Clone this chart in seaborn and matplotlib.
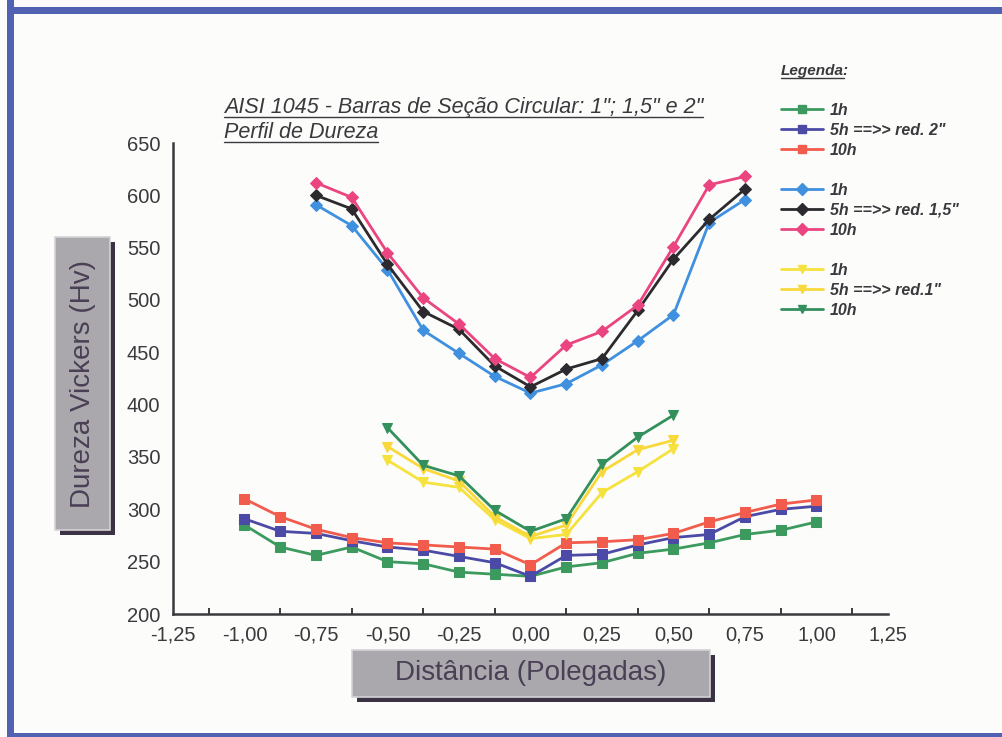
import numpy as np
import pandas as pd
import matplotlib
matplotlib.use('Agg')
import matplotlib.pyplot as plt
import seaborn as sns
from matplotlib.patches import Rectangle
from matplotlib.lines import Line2D
from matplotlib.ticker import MultipleLocator, FuncFormatter

# Distâncias (polegadas) para cada diâmetro de barra
x_2 = [-1.0, -0.875, -0.75, -0.625, -0.5, -0.375, -0.25, -0.125, 0.0,
       0.125, 0.25, 0.375, 0.5, 0.625, 0.75, 0.875, 1.0]
x_15 = [-0.75, -0.625, -0.5, -0.375, -0.25, -0.125, 0.0,
        0.125, 0.25, 0.375, 0.5, 0.625, 0.75]
x_1 = [-0.5, -0.375, -0.25, -0.125, 0.0, 0.125, 0.25, 0.375, 0.5]

# Dureza Vickers (Hv)
hv_2_1h = [285, 264, 256, 264, 250, 248, 240, 238, 236, 245, 249, 258, 262, 268, 276, 280, 288]
hv_2_5h = [291, 279, 277, 270, 264, 261, 255, 249, 236, 256, 257, 266, 273, 276, 293, 300, 303]
hv_2_10h = [310, 293, 281, 273, 268, 266, 264, 262, 247, 268, 269, 271, 277, 288, 297, 305, 309]

hv_15_1h = [591, 571, 529, 471, 449, 427, 411, 420, 438, 461, 486, 574, 596]
hv_15_5h = [600, 587, 534, 489, 472, 437, 417, 434, 444, 490, 539, 577, 606]
hv_15_10h = [612, 598, 545, 502, 477, 444, 426, 457, 470, 495, 551, 610, 618]

hv_1_1h = [347, 326, 321, 290, 272, 276, 316, 336, 358]
hv_1_5h = [360, 339, 327, 293, 274, 285, 336, 357, 366]
hv_1_10h = [378, 342, 332, 299, 279, 291, 343, 369, 390]

legend_labels = ['1h', '5h ==>> red. 2"', '10h',
                 '1h', '5h ==>> red. 1,5"', '10h',
                 '1h', '5h ==>> red.1"', '10h']

TXT = '#3a3a3e'
W, H = 1003, 737


def build_data():
    """Monta a tabela longa com todas as séries"""
    series = [
        ('2_1h', x_2, hv_2_1h), ('2_5h', x_2, hv_2_5h), ('2_10h', x_2, hv_2_10h),
        ('15_1h', x_15, hv_15_1h), ('15_5h', x_15, hv_15_5h), ('15_10h', x_15, hv_15_10h),
        ('1_1h', x_1, hv_1_1h), ('1_5h', x_1, hv_1_5h), ('1_10h', x_1, hv_1_10h),
    ]
    frames = [pd.DataFrame({'serie': name, 'x': xs, 'hv': ys}) for name, xs, ys in series]
    return pd.concat(frames, ignore_index=True)


def underline(fig, txt, y_px, lw=1.0):
    """Sublinha um texto na altura y_px (pixels a partir do topo)"""
    fig.canvas.draw()
    bb = txt.get_window_extent()
    y = 1 - y_px / H
    fig.add_artist(Line2D([bb.x0 / W, bb.x1 / W], [y, y], color=TXT, lw=lw,
                          transform=fig.transFigure))


def label_box(fig, x0, y0, w, h, text, rotation=0):
    """Caixa cinza com sombra para os títulos dos eixos (pixels)"""
    sh = 5
    fig.patches.append(Rectangle(((x0 + sh) / W, (H - y0 - h - sh) / H), w / W, h / H,
                                 transform=fig.transFigure, facecolor='#3b3244',
                                 edgecolor='none', zorder=1))
    fig.patches.append(Rectangle((x0 / W, (H - y0 - h) / H), w / W, h / H,
                                 transform=fig.transFigure, facecolor='#aaa8ad',
                                 edgecolor='#d4d2d6', lw=1.2, zorder=2))
    fig.text((x0 + w / 2) / W, (H - y0 - h / 2) / H, text, rotation=rotation,
             ha='center', va='center', fontsize=20, color='#4a3f55', zorder=3)


def main():
    sns.set_style('white')
    plt.rcParams['font.family'] = ['Liberation Sans', 'DejaVu Sans']

    df = build_data()

    fig = plt.figure(figsize=(10.03, 7.37), dpi=100)
    fig.patch.set_facecolor('#fcfcfa')
    ax = fig.add_axes([173 / W, 123 / H, 715 / W, 471 / H])
    ax.set_facecolor('none')

    styles = {
        '2_1h': ('#3c9a5f', 's'), '2_5h': ('#4b4aa6', 's'), '2_10h': ('#f25c4c', 's'),
        '15_1h': ('#3f90de', 'D'), '15_5h': ('#2c2a2e', 'D'), '15_10h': ('#ea4580', 'D'),
        '1_1h': ('#f6e23c', 'v'), '1_5h': ('#f8d83a', 'v'), '1_10h': ('#33905c', 'v'),
    }
    handles = []
    for name, (color, marker) in styles.items():
        sub = df[df['serie'] == name]
        sns.lineplot(data=sub, x='x', y='hv', ax=ax, color=color, marker=marker,
                     markersize=7 if marker != 'D' else 6, markeredgecolor=color,
                     linewidth=2.0, estimator=None, sort=False)
        handles.append(Line2D([], [], color=color, marker=marker, markersize=6,
                              markeredgecolor=color, lw=2.0))

    # Eixos
    ax.set_xlim(-1.25, 1.25)
    ax.set_ylim(200, 650)
    ax.set_xlabel('')
    ax.set_ylabel('')
    for s in ['top', 'right']:
        ax.spines[s].set_visible(False)
    for s in ['left', 'bottom']:
        ax.spines[s].set_color(TXT)
        ax.spines[s].set_linewidth(1.8)
    ax.xaxis.set_major_locator(MultipleLocator(0.25))
    ax.xaxis.set_minor_locator(MultipleLocator(0.125))
    ax.yaxis.set_major_locator(MultipleLocator(50))
    ax.xaxis.set_major_formatter(FuncFormatter(
        lambda v, p: f'{v:.2f}'.replace('.', ',').replace('-0,00', '0,00')))
    ax.tick_params(axis='both', which='major', direction='in', length=7, width=1.6,
                   color=TXT, labelsize=14.5, labelcolor=TXT)
    ax.tick_params(axis='x', which='minor', direction='in', length=4, width=1.4,
                   color=TXT, bottom=True)
    ax.tick_params(axis='y', pad=9)
    ax.tick_params(axis='x', pad=8)

    # Legenda com linhas em branco entre os grupos
    blank = Line2D([], [], color='none')
    leg_handles = handles[:3] + [blank] + handles[3:6] + [blank] + handles[6:]
    leg_labels = legend_labels[:3] + [' '] + legend_labels[3:6] + [' '] + legend_labels[6:]
    fig.legend(leg_handles, leg_labels, loc='upper left',
               bbox_to_anchor=(781 / W, 1 - 103 / H), frameon=False,
               prop={'weight': 'bold', 'style': 'italic', 'size': 11.5},
               labelcolor=TXT, handlelength=2.6, handletextpad=0.45,
               labelspacing=0.31, borderpad=0, borderaxespad=0)

    leg_title = fig.text(781 / W, 1 - 75 / H, 'Legenda', fontsize=11,
                         fontweight='bold', style='italic', color=TXT, va='baseline')
    underline(fig, leg_title, 78)
    bb = leg_title.get_window_extent()
    fig.text((bb.x1 - 2) / W, 1 - 75 / H, ':', fontsize=11, fontweight='bold',
             style='italic', color=TXT, va='baseline')

    # Título
    t1 = fig.text(224 / W, 1 - 113 / H,
                  'AISI 1045 - Barras de Seção Circular: 1"; 1,5" e 2"',
                  fontsize=15.5, style='italic', color=TXT, va='baseline')
    t2 = fig.text(224 / W, 1 - 138 / H, 'Perfil de Dureza',
                  fontsize=15.5, style='italic', color=TXT, va='baseline')
    underline(fig, t1, 117)
    underline(fig, t2, 142)

    # Títulos dos eixos em caixas
    label_box(fig, 55, 237, 55, 293, 'Dureza Vickers (Hv)', rotation=90)
    label_box(fig, 352, 650, 358, 47, 'Distância (Polegadas)')

    # Moldura azul da página
    frame = '#5262b2'
    fig.patches.append(Rectangle((7 / W, 0), 7 / W, 1, transform=fig.transFigure,
                                 facecolor=frame, edgecolor='none'))
    fig.patches.append(Rectangle((7 / W, 1 - 14 / H), 1, 7 / H,
                                 transform=fig.transFigure, facecolor=frame, edgecolor='none'))
    fig.patches.append(Rectangle((7 / W, 0), 1, 4 / H, transform=fig.transFigure,
                                 facecolor=frame, edgecolor='none'))

    fig.savefig('out.png', dpi=100, facecolor=fig.get_facecolor())
    plt.close(fig)


if __name__ == '__main__':
    main()
